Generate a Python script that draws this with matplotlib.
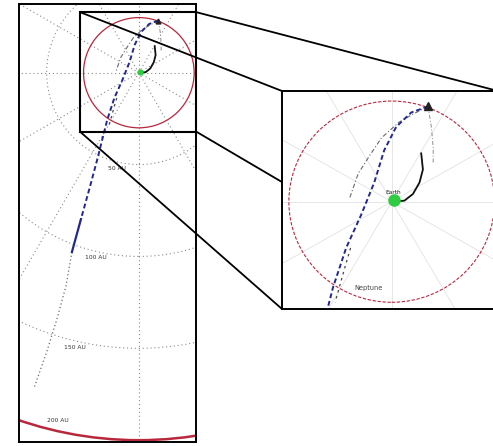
import numpy as np
import matplotlib
matplotlib.use("Agg")
import matplotlib.pyplot as plt
from matplotlib.patches import Circle, Rectangle, ConnectionPatch

# ---- data (heliocentric ecliptic coordinates, AU) ----
grid_radii = [50, 100, 150]
boundary_radius = 200
neptune_radius = 30
ring_labels = ["50 AU", "100 AU", "150 AU", "200 AU"]
spoke_angles = [0, 30, 60, 90, 120, 150, 180, 210, 240, 270, 300, 330]

# outbound cruise track (dashed blue)
cruise_x = [10.6, 5.7, 1.3, -2.2, -5.1, -8.9, -13.3, -17.1, -19.5, -22.5, -26.5, -31.4]
cruise_y = [28.4, 26.6, 22.3, 15.3, 5.7, -3.9, -13.8, -25.5, -35.0, -47.0, -62.0, -79.7]
# recent segment (solid blue)
recent_x = [-31.4, -36.3]
recent_y = [-79.7, -97.6]
# extrapolated track (dotted grey)
future_x = [-36.3, -39.5, -44.4, -50.0, -56.9]
future_y = [-97.6, -116.0, -134.0, -152.0, -171.8]

# launch arc from Earth (black)
launch_x = [0.7, 1.3, 3.7, 6.2, 8.1, 9.1, 8.6]
launch_y = [0.4, 0.1, 0.3, 2.3, 5.7, 9.6, 14.4]

# reference tracks (grey)
ref_a_x = [10.6, 6.0, 2.0, -3.0, -6.6, -9.8, -12.4]
ref_a_y = [28.4, 26.0, 23.6, 19.0, 13.5, 8.3, 0.7]
ref_b_x = [-12.0, -13.5, -15.0, -16.5]
ref_b_y = [-13.8, -19.0, -24.5, -30.0]
ref_c_x = [10.6, 11.6, 12.1, 12.1]
ref_c_y = [28.4, 22.0, 16.0, 11.5]

earth_pos = (0.7, 0.4)
craft_pos = (10.6, 28.4)

# zoom window (AU)
zoom_x = (-32.0, 31.0)
zoom_y = (-32.0, 33.0)

W, H = 493, 446
fig = plt.figure(figsize=(W / 100, H / 100), dpi=100)


def frac(x0, y0, x1, y1):
    return [x0 / W, 1 - y1 / H, (x1 - x0) / W, (y1 - y0) / H]


ax = fig.add_axes(frac(19, 4, 196, 442), zorder=0)
axin = fig.add_axes(frac(282, 91, 498, 309), zorder=3)

grid_col = "#8a8a8a"
red = "#b8283c"


def draw_common(a, inset=False):
    # spokes
    for ang in spoke_angles:
        t = np.deg2rad(ang)
        if inset:
            a.plot([0, 60 * np.cos(t)], [0, 60 * np.sin(t)], color="#e2e2e2",
                   lw=0.6, zorder=1)
        else:
            a.plot([0, 260 * np.cos(t)], [0, 260 * np.sin(t)], color=grid_col,
                   lw=0.8, ls=(0, (1, 2.5)), zorder=1)
    if not inset:
        for r in grid_radii:
            a.add_patch(Circle((0, 0), r, fill=False, ec=grid_col, lw=0.8,
                               ls=(0, (1, 2.5)), zorder=1))
        a.add_patch(Circle((0, 0), boundary_radius, fill=False, ec=red, lw=1.8,
                           zorder=2))
    a.add_patch(Circle((0, 0), neptune_radius, fill=False, ec=red,
                       lw=0.9 if not inset else 0.8,
                       ls=(0, (3, 1.5)) if inset else "-", zorder=2))
    a.plot(ref_a_x, ref_a_y, color="#6a6a6a", lw=0.8, ls=(0, (4, 2, 1, 2)), zorder=3)
    a.plot(ref_b_x, ref_b_y, color="#444444", lw=0.9, ls=(0, (2, 3)), zorder=3)
    a.plot(ref_c_x, ref_c_y, color="#8a8a8a", lw=0.7, ls=(0, (4, 2, 1, 2)), zorder=3)
    a.plot(future_x, future_y, color="#6a6a7a", lw=0.9, ls=(0, (1, 2)), zorder=3)
    a.plot(cruise_x, cruise_y, color="#23288f", lw=1.4, ls=(0, (2.5, 1.5)), zorder=4)
    a.plot(recent_x, recent_y, color="#23288f", lw=1.6, zorder=4)
    a.plot(launch_x, launch_y, color="#111111", lw=1.3, zorder=4)
    a.plot(*earth_pos, "o", color="#2ecc40", ms=8 if inset else 3.5,
           mec="#2ecc40", zorder=5)
    a.plot(*craft_pos, "^", color="#222222", ms=6 if inset else 3.5, zorder=5)
    a.set_xticks([])
    a.set_yticks([])
    for s in a.spines.values():
        s.set_linewidth(1.4)
        s.set_color("black")


draw_common(ax)
ax.set_xlim(-65, 31)
ax.set_ylim(-201, 37.4)

lab_ang = np.deg2rad(257)
for r, txt in zip(grid_radii + [boundary_radius], ring_labels):
    rl = r + 3.5 if r + 3.5 < 198 else r - 5.5
    ax.text(rl * np.cos(lab_ang), rl * np.sin(lab_ang), txt, fontsize=4.3,
            color="#333333", ha="center", va="center", zorder=6)

ax.add_patch(Rectangle((zoom_x[0], zoom_y[0]), zoom_x[1] - zoom_x[0],
                       zoom_y[1] - zoom_y[0], fill=False, ec="black", lw=1.5,
                       zorder=7, clip_on=False))

draw_common(axin, inset=True)
axin.set_xlim(*zoom_x)
axin.set_ylim(*zoom_y)
axin.set_facecolor("white")
axin.text(0.3, 2.8, "Earth", fontsize=4.2, color="#222222", ha="center",
          va="center", zorder=6)
axin.text(-6.8, -25.8, "Neptune", fontsize=4.8, color="#444444", ha="center",
          va="center", zorder=6)

# connectors between the zoom window and the inset
for cx in zoom_x:
    for cy in zoom_y:
        con = ConnectionPatch(xyA=(cx, cy), coordsA=ax.transData,
                              xyB=(cx, cy), coordsB=axin.transData,
                              color="black", lw=1.3, zorder=2)
        fig.add_artist(con)

fig.savefig("out.png", dpi=100)
